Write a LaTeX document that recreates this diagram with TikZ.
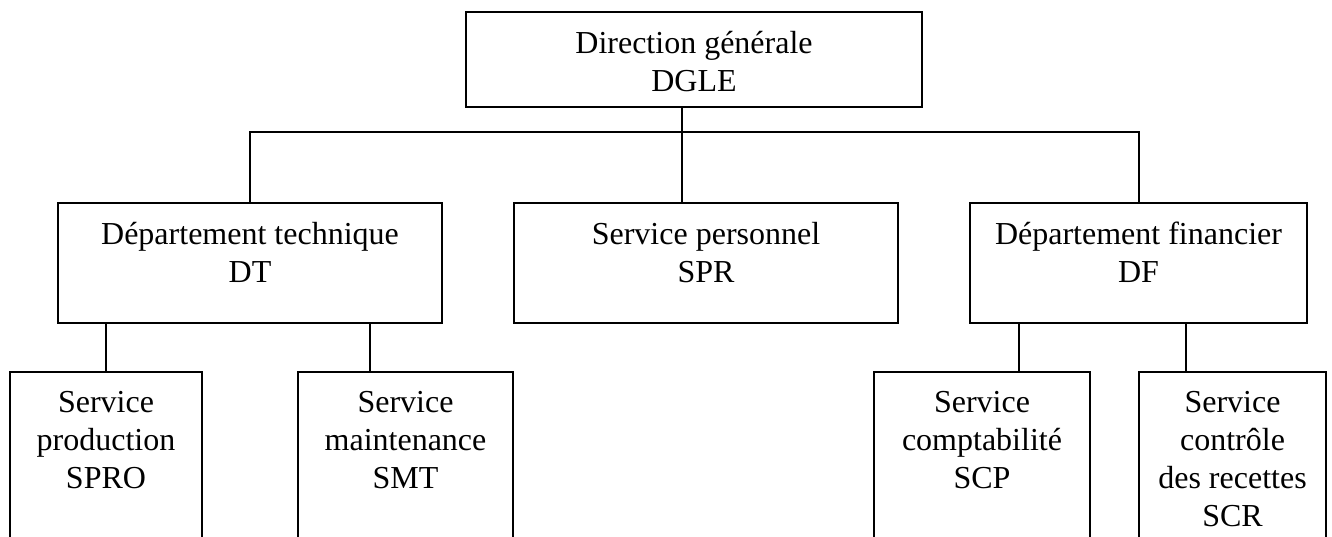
\documentclass[tikz,border=0pt]{standalone}
\usepackage{fontspec}
\setmainfont{Liberation Serif}
\usetikzlibrary{positioning,calc}

\tikzset{
    unit/.style={draw, line width=1pt, inner sep=0pt},
    caption/.style={anchor=north, align=center, inner sep=0pt, yshift=-10pt, font=\fontsize{16}{19}\selectfont},
    link/.style={line width=1pt}
}

\begin{document}
\begin{tikzpicture}[x=0.5pt, y=-0.5pt]
    \path[use as bounding box] (0,0) rectangle (1332,536);
    \clip (0,0) rectangle (1332,536);

    % Direction
    \node [unit, minimum width=228pt, minimum height=47.5pt, label={[caption]north:{Direction générale\\DGLE}}] (dgle) at (694,59.5) {};
    \coordinate (bus) at (694,132);

    % Departements
    \node [unit, minimum width=192pt, minimum height=60pt, label={[caption]north:{Département technique\\DT}}] (dt) at (250,263) {};
    \node [unit, minimum width=192pt, minimum height=60pt, label={[caption]north:{Service personnel\\SPR}}] (spr) at (706,263) {};
    \node [unit, minimum width=168.5pt, minimum height=60pt, label={[caption]north:{Département financier\\DF}}] (df) at (1138.5,263) {};

    % Services (cut at the bottom)
    \node [unit, minimum width=96pt, minimum height=124pt, label={[caption]north:{Service\\production\\SPRO}}] (spro) at (106,496) {};
    \node [unit, minimum width=107.5pt, minimum height=124pt, label={[caption]north:{Service\\maintenance\\SMT}}] (smt) at (405.5,496) {};
    \node [unit, minimum width=108pt, minimum height=124pt, label={[caption]north:{Service\\comptabilité\\SCP}}] (scp) at (982,496) {};
    \node [unit, minimum width=93.5pt, minimum height=124pt, label={[caption]north:{Service\\contrôle\\des recettes\\SCR}}] (scr) at (1232.5,496) {};

    % Links
    \draw [link] ([xshift=-6pt]dgle.south) -- ([xshift=-6pt]dgle.south |- spr.north);
    \draw [link] (dt.north) -- (dt.north |- bus) -- (df.north |- bus) -- (df.north);
    \draw [link] (spro.north) -- (spro.north |- dt.south);
    \draw [link] ([xshift=60pt]dt.south) -- ([xshift=60pt]dt.south |- smt.north);
    \draw [link] ([xshift=-60pt]df.south) -- ([xshift=-60pt]df.south |- scp.north);
    \draw [link] ([xshift=23.75pt]df.south) -- ([xshift=23.75pt]df.south |- scr.north);
\end{tikzpicture}
\end{document}
